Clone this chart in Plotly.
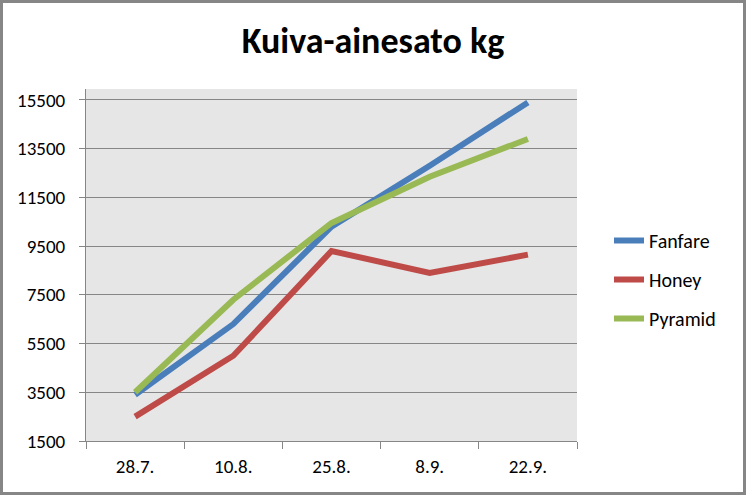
import plotly.graph_objects as go

categories = ["28.7.", "10.8.", "25.8.", "8.9.", "22.9."]
fanfare = [3400, 6300, 10300, 12800, 15400]
honey = [2500, 5000, 9300, 8400, 9150]
pyramid = [3500, 7300, 10450, 12350, 13900]
y_ticks = [1500, 3500, 5500, 7500, 9500, 11500, 13500, 15500]
y_tick_labels = [str(v) for v in y_ticks]

W, H = 746, 495
L, R, T, B = 86, 169, 89, 54
pw, ph = W - L - R, H - T - B

FONT = "Carlito, Calibri, Lato, sans-serif"

fig = go.Figure()
series = [("Fanfare", fanfare, "#4A7EBB"), ("Honey", honey, "#BE4B48"), ("Pyramid", pyramid, "#98B954")]
for name, vals, col in series:
    fig.add_trace(go.Scatter(x=categories, y=vals, name=name, mode="lines",
                             line=dict(color=col, width=6), legendgroup=name))

fig.update_layout(
    width=W, height=H,
    margin=dict(l=L, r=R, t=T, b=B, autoexpand=False),
    paper_bgcolor="white", plot_bgcolor="#E6E6E6",
    font=dict(family=FONT, size=19, color="black"),
    title=dict(text="<b>Kuiva-ainesato kg</b>", x=0.5, xref="container", xanchor="center",
               y=1 - 40 / H, yref="container", yanchor="middle",
               font=dict(family=FONT, size=36, color="black")),
    showlegend=True,
    legend=dict(x=(609 - L) / pw, y=1 - (221 - T) / ph, xanchor="left", yanchor="top",
                bgcolor="rgba(0,0,0,0)", tracegroupgap=10, font=dict(size=20)),
    xaxis=dict(type="category", tickson="boundaries", ticks="outside", ticklen=7, tickcolor="#868686",
               showline=True, linecolor="#868686", linewidth=1, showgrid=False, zeroline=False,
               range=[-0.5, 4.5], tickfont=dict(size=19), ticklabelstandoff=8),
    yaxis=dict(range=[1500, 15950], tickvals=y_ticks, ticktext=y_tick_labels, ticks="outside",
               ticklen=6, tickcolor="#868686", ticklabelstandoff=10,
               showline=True, linecolor="#868686", linewidth=1, showgrid=True, gridcolor="#868686",
               gridwidth=1, zeroline=False, tickfont=dict(size=19)),
)

fig.add_shape(type="rect", xref="paper", yref="paper",
              x0=(1.5 - L) / pw, x1=(W - 1.5 - L) / pw,
              y0=-(B - 1.5) / ph, y1=1 + (T - 1.5) / ph,
              line=dict(color="#868686", width=3), fillcolor="rgba(0,0,0,0)", layer="above")

fig.write_html("out.html")
